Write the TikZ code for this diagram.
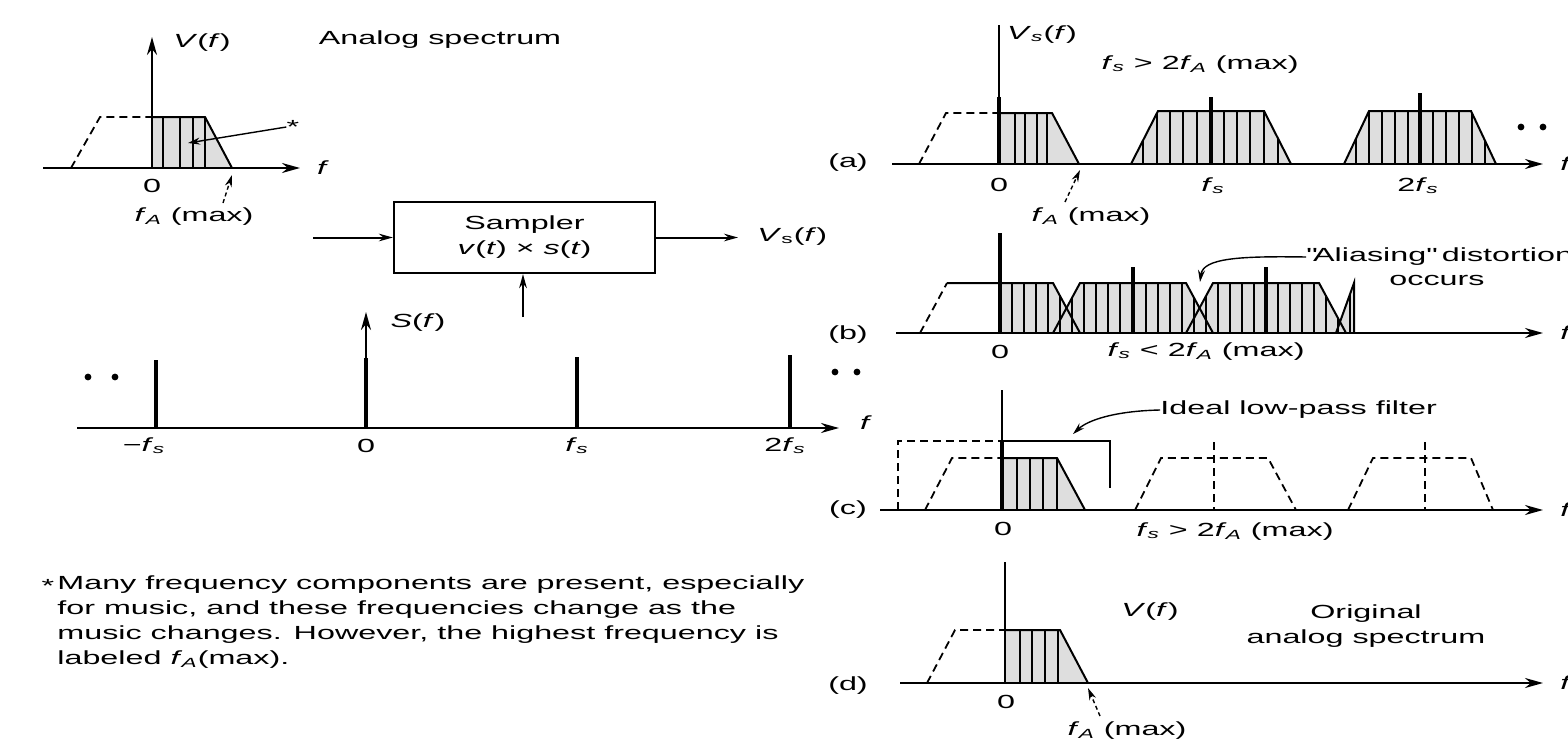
\documentclass[tikz,border=0pt]{standalone}
\usepackage{fontspec}
\setmainfont{Liberation Sans}[FakeStretch=1.7]
\usetikzlibrary{arrows.meta}
\newcommand\fAx{\textit{f}\textsubscript{\kern-0.3pt\textit{A}}}
\newcommand\fsx{\textit{f}\textsubscript{\kern-0.3pt\textit{s}}}
\newcommand\hatchfill[2]{\begin{scope}\clip #1;\fill[shd] #1;\foreach \x in {#2}{\draw[hatch] (\x,0) -- (\x,744);}\end{scope}}
\begin{document}
\begin{tikzpicture}[x=0.5pt,y=-0.5pt,font=\fontsize{9.5}{12.5}\selectfont,
 ax/.style={line width=1.1pt,-{Stealth[length=9pt,width=5pt]}},
 ln/.style={line width=1pt},
 dl/.style={line width=0.9pt,dash pattern=on 4pt off 2.5pt},
 hatch/.style={line width=0.8pt},
 imp/.style={line width=1.6pt},
 shd/.style={fill=black!13},
 ptr/.style={line width=0.7pt,-{Stealth[length=6pt,width=3.5pt]}},
 dptr/.style={ptr,dash pattern=on 2pt off 1.5pt},
 lbl/.style={inner sep=0pt},
 blk/.style={draw,line width=1.1pt,minimum width=130.5pt,minimum height=35.5pt,align=center,inner sep=0pt},
 arr/.style={line width=1pt,-{Stealth[length=7pt,width=3.8pt]}}]
\useasboundingbox (0,0) rectangle (1568,744);
\fill[white] (0,0) rectangle (1568,744);

% ---------- top-left analog spectrum
\hatchfill{(152,168)--(152,117)--(205,117)--(232,168)--cycle}{163,180,193,205}
\draw[dl] (71,168)--(100,117)--(152,117);
\draw[ln] (152,117)--(205,117)--(232,168);
\draw[ax] (43,168)--(300,168);
\draw[ax] (152,168)--(152,37);
\node[lbl] (vf1) at (202,43) {\textit{V}(\textit{f})};
\node[lbl] (an) at (440,40) {Analog spectrum};
\node[lbl] (f1) at (323,168) {\textit{f}};
\node[lbl] (z1) at (152,186) {0};
\node[lbl] (fa1) at (194,217) {\fAx\ (max)};
\coordinate (fa1t) at (223,203);
\coordinate (fa1p) at (232,175);
\draw[dptr] (fa1t) -- (fa1p);
\node[lbl] (ast1) at (293,127) {*};
\coordinate (ast1p) at (188,143);
\draw[ptr] (ast1.west) -- (ast1p);

% ---------- sampler block
\node[blk] (samp) at (524.5,237.5) {Sampler\\\textit{v}(\textit{t}) × \textit{s}(\textit{t})};
\coordinate (sin1) at (313,237.5);
\draw[arr] (sin1) -- (samp.west);
\node[lbl,anchor=west] (vs) at (757,237) {\textit{V}\textsubscript{s}(\textit{f})};
\coordinate (vsend) at (738,237.5);
\draw[arr] (samp.east) -- (vsend);
\coordinate (sbot) at (523,317);
\draw[arr] (sbot) -- (samp.south -| sbot);

% ---------- S(f) comb
\draw[ax] (77,428) -- (839,428);
\draw[imp] (156,428)--(156,360);
\draw[imp] (366,428)--(366,358);
\draw[ax] (366,428)--(366,312);
\draw[imp] (577,428)--(577,357);
\draw[imp] (790,428)--(790,355);
\node[lbl] (sf) at (418,323) {\textit{S}(\textit{f})};
\node[lbl] (f2) at (866,423) {\textit{f}};
\node[lbl] (l1) at (144,446) {−\fsx};
\node[lbl] (l2) at (366,446) {0};
\node[lbl] (l3) at (577,446) {\fsx};
\node[lbl] (l4) at (785,446) {2\fsx};
\fill (88,377) circle (1.7pt) (115,377) circle (1.7pt);
\fill (835,372) circle (1.7pt) (857,372) circle (1.7pt);

% ---------- footnote
\node[lbl] (ast2) at (48,586) {*};
\node[lbl,anchor=north west,align=left] (note) at (57,575) {Many frequency components are present, especially\\for music, and these frequencies change as the\\music changes. However, the highest frequency is\\labeled \fAx(max).};

% ---------- (a)
\hatchfill{(999,164)--(999,113)--(1052,113)--(1079,164)--cycle}{1015,1025,1037,1047}
\hatchfill{(1131,164)--(1158,111)--(1264,111)--(1291,164)--cycle}{1143,1157,1170,1183,1197,1224,1237,1250,1264,1278}
\hatchfill{(1344,164)--(1369,111)--(1471,111)--(1496,164)--cycle}{1356,1369,1382,1395,1408,1433,1446,1459,1472,1485}
\draw[dl] (919,164)--(946,113)--(999,113);
\draw[ln] (999,113)--(1052,113)--(1079,164);
\draw[ln] (1131,164)--(1158,111)--(1264,111)--(1291,164);
\draw[ln] (1344,164)--(1369,111)--(1471,111)--(1496,164);
\draw[ax] (892,164)--(1543,164);
\draw[ln] (999,164)--(999,25);
\draw[imp] (999,164)--(999,97);
\draw[imp] (1211,164)--(1211,97);
\draw[imp] (1420,164)--(1420,93);
\node[lbl] (la) at (848,163) {(a)};
\node[lbl] (vsa) at (1042,35) {\textit{V}\textsubscript{\textit{s}}(\textit{f})};
\node[lbl] (ca) at (1200,65) {\fsx\ > 2\fAx\ (max)};
\node[lbl] (za) at (999,185) {0};
\node[lbl] (fsa) at (1213,186) {\fsx};
\node[lbl] (f2sa) at (1418,186) {2\fsx};
\node[lbl] (faa) at (1091,217) {\fAx\ (max)};
\coordinate (faat) at (1065,202);
\coordinate (faap) at (1080,170);
\draw[dptr] (faat) -- (faap);
\fill (1521,127) circle (1.7pt) (1543,127) circle (1.7pt);
\node[lbl,anchor=west] (fra) at (1560,164) {\textit{f}};

% ---------- (b)
\hatchfill{(1000,333)--(1000,283)--(1053,283)--(1066.5,308)--(1080,283)--(1186,283)--(1199.5,308)--(1213,283)--(1319,283)--(1340,322)--(1354,283)--(1354,333)--cycle}{1012,1024,1036,1048,1060,1072,1084,1096,1108,1120,1146,1158,1170,1182,1194,1206,1218,1230,1242,1254,1278,1290,1302,1314,1326,1338,1350}
\draw[dl] (920,333)--(947,283);
\draw[ln] (947,283)--(1053,283)--(1080,333);
\draw[ln] (1053,333)--(1080,283)--(1186,283)--(1213,333);
\draw[ln] (1186,333)--(1213,283)--(1319,283)--(1346,333);
\draw[ln] (1336,333)--(1354,283)--(1354,333);
\draw[ax] (896,333)--(1543,333);
\draw[imp] (1000,333)--(1000,233);
\draw[imp] (1133,333)--(1133,267);
\draw[imp] (1266,333)--(1266,267);
\node[lbl] (lb) at (848,335) {(b)};
\node[lbl] (zb) at (1000,352) {0};
\node[lbl] (cb) at (1206,352) {\fsx\ < 2\fAx\ (max)};
\node[lbl,anchor=west] (alias) at (1306,257) {\textquotedbl Aliasing\textquotedbl\ distortion};
\node[lbl] (occ) at (1437,280) {occurs};
\coordinate (aliasp) at (1200,282);
\draw[ptr] (alias.west) .. controls (1240,256) and (1203,258) .. (aliasp);
\node[lbl,anchor=west] (frb) at (1560,333) {\textit{f}};

% ---------- (c)
\hatchfill{(1002,510)--(1002,458)--(1057,458)--(1085,510)--cycle}{1017,1030,1043,1057}
\draw[dl] (925,510)--(952,458)--(1002,458);
\draw[ln] (1002,458)--(1057,458)--(1085,510);
\draw[dl] (1135,510)--(1161,458)--(1268,458)--(1296,510);
\draw[dl] (1214,442)--(1214,510);
\draw[dl] (1348,510)--(1373,458)--(1471,458)--(1493,510);
\draw[dl] (1425,442)--(1425,510);
\draw[dl] (898,510)--(898,441)--(1002,441);
\draw[ln] (1002,441)--(1110,441)--(1110,488);
\draw[ax] (880,510)--(1543,510);
\draw[ln] (1002,510)--(1002,390);
\draw[imp] (1002,510)--(1002,440);
\node[lbl] (lc) at (848,510) {(c)};
\node[lbl] (zc) at (1003,529) {0};
\node[lbl] (cc) at (1235,532) {\fsx\ > 2\fAx\ (max)};
\node[lbl,anchor=west] (lpf) at (1160,410) {Ideal low-pass filter};
\coordinate (lpfp) at (1073,434);
\draw[ptr] (lpf.west) .. controls (1115,411) and (1088,420) .. (lpfp);
\node[lbl,anchor=west] (frc) at (1560,510) {\textit{f}};

% ---------- (d)
\hatchfill{(1005,683)--(1005,630)--(1060,630)--(1088,683)--cycle}{1020,1032,1045,1058}
\draw[dl] (927,683)--(955,630)--(1005,630);
\draw[ln] (1005,630)--(1060,630)--(1088,683);
\draw[ax] (900,683)--(1543,683);
\draw[ln] (1005,683)--(1005,562);
\node[lbl] (ld) at (848,686) {(d)};
\node[lbl] (zd) at (1006,702) {0};
\node[lbl] (fad) at (1127,731) {\fAx\ (max)};
\coordinate (fadt) at (1100,716);
\coordinate (fadp) at (1088,688);
\draw[dptr] (fadt) -- (fadp);
\node[lbl] (vfd) at (1150,612) {\textit{V}(\textit{f})};
\node[lbl,align=center] (orig) at (1366,626) {Original\\analog spectrum};
\node[lbl,anchor=west] (frd) at (1560,683) {\textit{f}};
\end{tikzpicture}
\end{document}
